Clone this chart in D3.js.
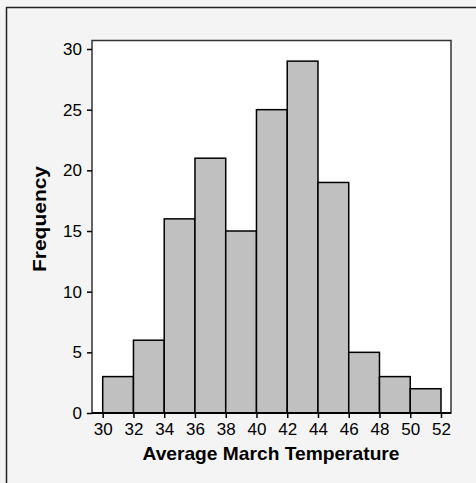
<!DOCTYPE html>
<html>
<head>
<meta charset="utf-8">
<script src="https://cdn.jsdelivr.net/npm/d3@7"></script>
<style>
  body { margin: 0; background: #f4f4f4; overflow: hidden; }
  svg { display: block; font-family: "Liberation Sans", Arial, sans-serif; }
</style>
</head>
<body>
<svg class="chart" width="476" height="483"></svg>
<script>
// histogram bins (lower edges) and counts
const binStart = [30, 32, 34, 36, 38, 40, 42, 44, 46, 48, 50];
const binWidth = 2;
const counts = [3, 6, 16, 21, 15, 25, 29, 19, 5, 3, 2];
const xTicks = [30, 32, 34, 36, 38, 40, 42, 44, 46, 48, 50, 52];
const yTicks = [0, 5, 10, 15, 20, 25, 30];

const svg = d3.select('.chart');

// outer panel: only its top and left edges are in view
svg.append('path')
  .attr('d', 'M6.5,483V7.5H476')
  .attr('fill', 'none')
  .attr('stroke', '#222').attr('stroke-width', 1.5);

const x = d3.scaleLinear().domain([30, 52]).range([102.7, 441]);
const y = d3.scaleLinear().domain([0, 30]).range([413, 49]);

// plot frame
svg.append('rect')
  .attr('x', 92).attr('y', 40.5)
  .attr('width', 359).attr('height', 372.5)
  .attr('fill', '#fff')
  .attr('stroke', '#333').attr('stroke-width', 1.5);

svg.append('g').selectAll('rect')
  .data(binStart)
  .join('rect')
    .attr('x', d => x(d))
    .attr('y', (d, i) => y(counts[i]))
    .attr('width', d => x(d + binWidth) - x(d))
    .attr('height', (d, i) => y(0) - y(counts[i]))
    .attr('fill', '#c0c0c0')
    .attr('stroke', '#000')
    .attr('stroke-width', 1.5);

// baseline
svg.append('line')
  .attr('x1', 92).attr('x2', 451)
  .attr('y1', y(0)).attr('y2', y(0))
  .attr('stroke', '#000').attr('stroke-width', 2);

const xAxis = svg.append('g')
  .attr('transform', `translate(0,${y(0)})`)
  .call(d3.axisBottom(x).tickValues(xTicks).tickSize(5).tickPadding(5));
xAxis.select('.domain').remove();

const yAxis = svg.append('g')
  .attr('transform', 'translate(92,0)')
  .call(d3.axisLeft(y).tickValues(yTicks).tickSize(5).tickPadding(5));
yAxis.select('.domain').remove();

svg.selectAll('.tick line').attr('stroke', '#000').attr('stroke-width', 1.5);
svg.selectAll('.tick text')
  .attr('fill', '#000')
  .attr('font-size', 17)
  .attr('font-family', '"Liberation Sans", Arial, sans-serif');

svg.append('text')
  .attr('x', 271).attr('y', 460)
  .attr('text-anchor', 'middle')
  .attr('textLength', 257)
  .attr('lengthAdjust', 'spacingAndGlyphs')
  .style('font-size', '19px').style('font-weight', 'bold')
  .text('Average March Temperature');

svg.append('text')
  .attr('transform', 'translate(45.5,219) rotate(-90)')
  .attr('text-anchor', 'middle')
  .attr('textLength', 106)
  .attr('lengthAdjust', 'spacingAndGlyphs')
  .style('font-size', '19px').style('font-weight', 'bold')
  .text('Frequency');
</script>
</body>
</html>
